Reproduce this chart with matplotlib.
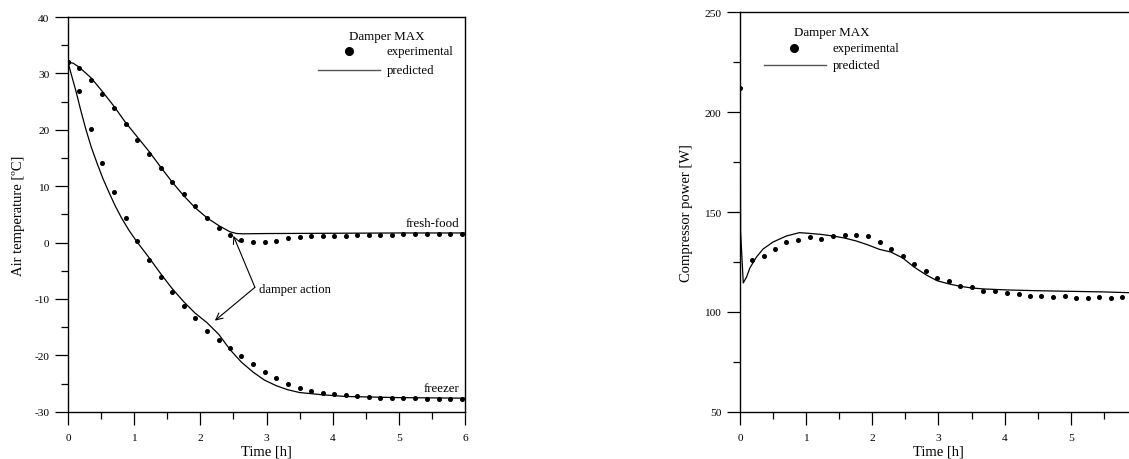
import matplotlib
matplotlib.use("Agg")
import matplotlib.pyplot as plt
from matplotlib.ticker import MultipleLocator

plt.rcParams['font.family'] = ['Liberation Serif', 'DejaVu Serif']
plt.rcParams['axes.unicode_minus'] = False

# --- air temperature (left) ---
t_exp = [0.0, 0.17, 0.35, 0.52, 0.70, 0.87, 1.05, 1.22, 1.40, 1.57, 1.75, 1.92,
         2.10, 2.28, 2.45, 2.62, 2.80, 2.97, 3.15, 3.32, 3.50, 3.67, 3.85, 4.02,
         4.20, 4.37, 4.55, 4.72, 4.90, 5.07, 5.25, 5.42, 5.60, 5.77, 5.95]
fresh_exp = [32.0, 30.9, 28.8, 26.4, 23.9, 21.0, 18.25, 15.65, 13.2, 10.8, 8.6, 6.4,
             4.4, 2.6, 1.35, 0.46, 0.05, 0.15, 0.34, 0.76, 0.94, 1.1, 1.15, 1.24,
             1.24, 1.3, 1.35, 1.4, 1.4, 1.45, 1.45, 1.5, 1.5, 1.5, 1.5]
freezer_exp = [32.0, 26.9, 20.1, 14.05, 8.9, 4.35, 0.34, -3.1, -6.1, -8.7, -11.2, -13.4,
               -15.6, -17.3, -18.7, -20.05, -21.5, -22.9, -24.06, -25.0, -25.8, -26.25, -26.6, -26.9,
               -27.1, -27.3, -27.4, -27.5, -27.55, -27.6, -27.65, -27.7, -27.7, -27.7, -27.7]

t_fresh_pred = [0.0, 0.08, 0.17, 0.35, 0.52, 0.70, 0.87, 1.05, 1.23, 1.40, 1.57, 1.75,
                1.92, 2.10, 2.28, 2.45, 2.55, 2.65, 3.0, 4.0, 5.0, 6.0]
fresh_pred = [32.0, 31.8, 31.1, 29.2, 26.8, 24.1, 21.3, 18.7, 16.1, 13.4, 10.8, 8.3,
              6.2, 4.4, 3.0, 1.9, 1.6, 1.55, 1.6, 1.65, 1.7, 1.7]

t_freezer_pred = [0.0, 0.06, 0.12, 0.19, 0.27, 0.35, 0.44, 0.53, 0.62, 0.71, 0.81, 0.92,
                  1.03, 1.22, 1.40, 1.57, 1.75, 1.92, 2.10, 2.28, 2.45, 2.62, 2.80, 2.97,
                  3.15, 3.32, 3.50, 3.85, 4.2, 5.0, 6.0]
freezer_pred = [32.0, 29.4, 26.9, 23.6, 20.1, 17.0, 14.05, 11.3, 8.9, 6.6, 4.35, 2.2,
                0.34, -2.6, -5.5, -8.1, -10.5, -12.5, -14.2, -16.3, -19.0, -21.2, -23.0, -24.4,
                -25.4, -26.1, -26.6, -27.0, -27.3, -27.5, -27.6]

# --- compressor power (right) ---
t_pow_exp = [0.0, 0.18, 0.36, 0.53, 0.70, 0.88, 1.06, 1.23, 1.41, 1.58, 1.76, 1.93,
             2.11, 2.28, 2.46, 2.63, 2.81, 2.98, 3.16, 3.33, 3.50, 3.68, 3.86, 4.03,
             4.21, 4.38, 4.55, 4.73, 4.91, 5.08, 5.26, 5.43, 5.61, 5.78]
pow_exp = [212, 125.8, 128.2, 131.3, 134.8, 136, 137.65, 136.65, 138, 138.65, 138.5, 137.8,
           135, 131.65, 127.8, 123.8, 120.5, 117, 115.65, 113, 112.3, 110.3, 110.3, 109.5,
           108.8, 107.8, 108.2, 107.3, 107.8, 107.2, 106.8, 107.6, 107.2, 107.6]

t_pow_pred = [0.0, 0.01, 0.05, 0.1, 0.15, 0.25, 0.35, 0.5, 0.7, 0.9, 1.06, 1.23, 1.41,
              1.58, 1.76, 1.93, 2.11, 2.28, 2.46, 2.63, 2.81, 2.98, 3.16, 3.33, 3.50,
              3.68, 4.03, 4.5, 5.0, 5.5, 6.0]
pow_pred = [255, 140, 114.5, 117.5, 122, 127.5, 131.5, 135, 138, 139.7, 139.3, 138.8, 138,
            137, 135.5, 133.6, 131.3, 130, 127, 122.5, 118.6, 115.6, 114, 112.8, 112,
            111.5, 111, 110.6, 110.3, 110, 109.5]


def style_axes(ax):
    ax.tick_params(which='major', direction='out', length=9.5, width=0.9, labelsize=8.2)
    ax.tick_params(axis='x', which='major', pad=6)
    ax.tick_params(axis='y', which='major', pad=4)
    ax.tick_params(which='minor', direction='out', length=4.8, width=0.9)
    ax.tick_params(top=False, right=False, which='both')
    for s in ax.spines.values():
        s.set_linewidth(1.0)
    ax.xaxis.set_major_locator(MultipleLocator(1))
    ax.xaxis.set_minor_locator(MultipleLocator(0.5))


def draw_legend(ax, x_dot, x_line0, x_line1, x_text, y_title, y_exp, y_pred):
    ax.text(x_dot, y_title, "Damper MAX", transform=ax.transAxes, fontsize=9.4,
            ha='left', va='center')
    ax.plot([x_dot], [y_exp], 'o', color='k', markersize=5.5, transform=ax.transAxes, clip_on=False)
    ax.text(x_text, y_exp, "experimental", transform=ax.transAxes, fontsize=9.2, va='center')
    ax.plot([x_line0, x_line1], [y_pred, y_pred], color='#555555', lw=1.0,
            transform=ax.transAxes, clip_on=False)
    ax.text(x_text, y_pred, "predicted", transform=ax.transAxes, fontsize=9.2, va='center')


fig = plt.figure(figsize=(11.29, 4.6), dpi=100)

# Left panel: air temperature
ax1 = fig.add_axes([0.0602, 0.1028, 0.3517, 0.858])
ax1.plot(t_fresh_pred, fresh_pred, color='k', lw=0.9)
ax1.plot(t_freezer_pred, freezer_pred, color='k', lw=0.9)
ax1.plot(t_exp, fresh_exp, 'o', color='k', markersize=2.6)
ax1.plot(t_exp, freezer_exp, 'o', color='k', markersize=2.6)
ax1.set_xlim(0, 6)
ax1.set_ylim(-30, 40)
ax1.yaxis.set_major_locator(MultipleLocator(10))
ax1.yaxis.set_minor_locator(MultipleLocator(5))
style_axes(ax1)
ax1.set_xlabel("Time [h]", fontsize=10.5)
ax1.set_ylabel("Air temperature [ºC]", fontsize=10.5)
ax1.xaxis.set_label_coords(0.5, -0.082)
ax1.yaxis.set_label_coords(-0.108, 0.5)

ax1.text(5.92, 3.46, "fresh-food", fontsize=9.3, ha='right', va='center')
ax1.text(5.92, -25.85, "freezer", fontsize=9.3, ha='right', va='center')

# damper action arrows
ax1.text(2.89, -8.3, "damper action", fontsize=9.1, ha='left', va='center')
arrow = dict(arrowstyle='->', color='k', lw=0.8, shrinkA=0, shrinkB=0, mutation_scale=12)
ax1.annotate("", xy=(2.50, 1.2), xytext=(2.825, -7.94), arrowprops=arrow)
ax1.annotate("", xy=(2.22, -13.85), xytext=(2.825, -7.94), arrowprops=arrow)

draw_legend(ax1, 0.708, 0.6286, 0.7859, 0.803, 0.951, 0.913, 0.866)

# Right panel: compressor power (right edge runs off the page)
ax2 = fig.add_axes([0.6554, 0.1028, 0.3517, 0.868])
ax2.plot(t_pow_pred, pow_pred, color='k', lw=0.9)
ax2.plot(t_pow_exp, pow_exp, 'o', color='k', markersize=2.6)
ax2.set_xlim(0, 6)
ax2.set_ylim(50, 250)
ax2.yaxis.set_major_locator(MultipleLocator(50))
ax2.yaxis.set_minor_locator(MultipleLocator(25))
style_axes(ax2)
ax2.set_xticks(range(7))
ax2.set_xticklabels(['0', '1', '2', '3', '4', '5', ''])
ax2.set_xlabel("Time [h]", fontsize=10.5)
ax2.set_ylabel("Compressor power [W]", fontsize=10.5)
ax2.xaxis.set_label_coords(0.5, -0.081)
ax2.yaxis.set_label_coords(-0.1176, 0.5)

draw_legend(ax2, 0.137, 0.0605, 0.216, 0.2335, 0.951, 0.912, 0.868)

fig.savefig("out.png", dpi=100)
